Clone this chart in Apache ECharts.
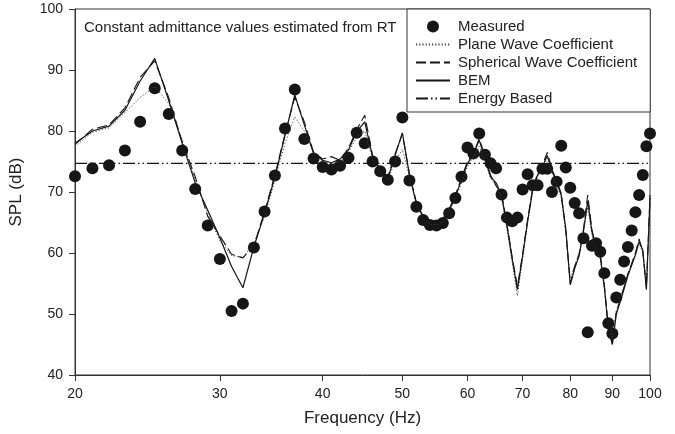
<!DOCTYPE html>
<html><head><meta charset="utf-8">
<script src="https://cdn.jsdelivr.net/npm/echarts@6/dist/echarts.min.js"></script>
<style>html,body{margin:0;padding:0;background:#fff}#c{width:675px;height:434px}</style>
</head><body><div id="c"></div>
<script>
const freq = [20,21,22,23,24,25,26,27,28,29,30,31,32,33,34,35,36,37,38,39,40,41,42,43,44,45,46,47,48,49,50,51,52,53,54,55,56,57,58,59,60,61,62,63,64,65,66,67,68,69,70,71,72,73,74,75,76,77,78,79,80,81,82,83,84,85,86,87,88,89,90,91,92,93,94,95,96,97,98,99,100];
const measured = [72.6,73.9,74.4,76.8,81.5,87.0,82.8,76.8,70.5,64.5,
  59.0,50.5,51.7,60.9,66.8,72.7,80.4,86.8,78.7,75.5,
  74.1,73.7,74.3,75.6,79.7,78.0,75.0,73.4,72.0,75.0,
  82.2,71.9,67.6,65.4,64.6,64.5,64.9,66.5,69.0,72.5,
  77.3,76.3,79.6,76.1,74.7,73.9,69.6,65.8,65.2,65.8,
  70.4,72.9,71.1,71.1,73.8,73.8,70.0,71.7,77.6,74.0,
  70.7,68.2,66.5,62.4,47.0,61.2,61.6,60.2,56.7,48.5,
  46.8,52.7,55.6,58.6,61.0,63.7,66.7,69.5,72.8,77.5,79.6];
const planeWave = [77.5,79.8,80.5,83.0,85.5,87.3,84.5,78.5,72.0,66.5,
  62.0,59.6,59.3,61.5,66.0,72.0,78.0,82.3,80.0,76.5,
  75.0,74.6,75.0,76.5,79.0,80.0,75.5,73.3,72.0,75.0,
  77.0,72.5,68.0,65.8,64.8,64.6,65.2,66.8,69.0,71.5,
  74.2,75.8,77.5,75.2,72.2,71.2,69.0,64.0,58.5,53.0,
  59.0,65.0,70.0,72.5,74.0,75.5,73.2,71.2,69.0,63.5,
  55.5,58.0,60.0,63.8,67.5,63.0,60.5,59.0,54.0,48.0,
  46.0,50.5,52.5,54.5,56.5,58.2,59.8,61.5,60.0,55.0,68.5];
const sphericalWave = [77.8,80.3,81.0,83.8,88.8,91.5,85.5,78.2,72.5,66.0,
  62.8,59.8,59.2,61.2,66.8,72.8,79.5,85.5,81.5,76.5,
  75.4,75.8,75.2,77.2,80.2,82.6,76.0,73.7,72.4,76.3,
  79.5,73.0,68.3,66.0,65.0,64.9,65.6,67.2,69.5,72.3,
  75.0,76.3,78.8,75.8,72.8,71.0,69.8,64.8,59.3,54.5,
  59.8,65.5,70.6,73.0,74.4,76.5,73.8,71.8,69.8,63.6,
  55.0,57.8,59.8,63.8,69.5,63.8,61.0,59.8,54.8,47.8,
  45.2,50.3,52.4,54.4,56.6,58.3,60.0,62.3,60.2,54.3,69.5];
const bem = [78.0,80.0,80.8,83.4,88.2,91.9,85.0,78.0,71.5,67.0,
  62.5,57.8,54.3,61.0,66.5,72.5,79.3,85.9,81.0,76.3,
  75.2,74.8,75.4,76.9,79.9,81.5,75.8,73.5,72.2,76.0,
  79.7,72.8,68.1,65.9,64.9,64.8,65.4,67.0,69.2,72.0,
  74.7,76.1,78.5,75.5,72.5,71.5,69.5,64.5,59.0,54.0,
  59.5,65.2,70.3,72.8,74.1,76.0,73.5,71.6,69.5,64.0,
  54.8,57.5,59.5,63.5,68.5,63.5,60.8,59.5,54.5,47.5,
  45.0,50.0,52.0,54.1,56.3,58.0,59.7,61.9,60.5,54.0,69.0];
const energyFreq = [20, 100];
const energyBased = [74.7, 74.7];
const xTickLabels = [20,30,40,50,60,70,80,90,100];
const yMin = 40, yMax = 100, yStep = 10;

const lg = v => Math.log10(v);
const pairs = (fs, vs) => fs.map((f, i) => [lg(f), vs[i]]);
const ink = '#161616';
const font = 'Liberation Sans, Arial, Helvetica, sans-serif';

const chart = echarts.init(document.getElementById('c'), null, {renderer: 'canvas'});
chart.setOption({
  animation: false,
  backgroundColor: '#fff',
  textStyle: {fontFamily: font},
  title: {
    text: 'Constant admittance values estimated from RT',
    left: 84, top: 20, padding: 0,
    textStyle: {fontSize: 15, fontWeight: 'normal', color: '#222', fontFamily: font}
  },
  grid: {left: 75, right: 25, top: 9, bottom: 59, show: true, borderColor: '#333', borderWidth: 1, backgroundColor: 'transparent'},
  legend: {
    orient: 'vertical', left: 407, top: 9,
    padding: [10, 13, 6, 8],
    itemWidth: 34, itemHeight: 12, itemGap: 3,
    backgroundColor: '#fff', borderColor: '#333', borderWidth: 1,
    textStyle: {fontSize: 15, color: '#222', fontFamily: font, lineHeight: 14, padding: [0, 0, 0, 3]},
    data: [
      {name: 'Measured', itemStyle: {opacity: 1}},
      {name: 'Plane Wave Coefficient', itemStyle: {opacity: 0}},
      {name: 'Spherical Wave Coefficient', itemStyle: {opacity: 0}},
      {name: 'BEM', itemStyle: {opacity: 0}},
      {name: 'Energy Based', itemStyle: {opacity: 0}}
    ]
  },
  xAxis: {
    type: 'value', min: lg(20), max: lg(100),
    name: 'Frequency (Hz)', nameLocation: 'middle', nameGap: 35,
    nameTextStyle: {fontSize: 17, color: '#222', fontFamily: font},
    axisLine: {show: true, lineStyle: {color: '#333', width: 1}},
    axisTick: {show: true, length: 6, inside: false, customValues: xTickLabels.map(lg), lineStyle: {color: '#333'}},
    axisLabel: {show: true, margin: 12, fontSize: 14, color: '#222', fontFamily: font,
      customValues: xTickLabels.map(lg), formatter: v => String(Math.round(Math.pow(10, v)))},
    splitLine: {show: false}
  },
  yAxis: {
    type: 'value', min: yMin, max: yMax, interval: yStep,
    name: 'SPL (dB)', nameLocation: 'middle', nameGap: 50,
    nameTextStyle: {fontSize: 17, color: '#222', fontFamily: font},
    axisLine: {show: true, lineStyle: {color: '#333', width: 1}},
    axisTick: {show: true, length: 6, lineStyle: {color: '#333'}},
    axisLabel: {margin: 12, fontSize: 14, color: '#222', fontFamily: font},
    splitLine: {show: false}
  },
  series: [
    {name: 'Measured', type: 'scatter', symbol: 'circle', symbolSize: 12,
     itemStyle: {color: ink, opacity: 1}, data: pairs(freq, measured), z: 3},
    {name: 'Plane Wave Coefficient', type: 'line', symbol: 'none', showSymbol: false,
     lineStyle: {color: '#444', width: 1, type: [1.2, 2]}, itemStyle: {color: '#444'},
     data: pairs(freq, planeWave), z: 4},
    {name: 'Spherical Wave Coefficient', type: 'line', symbol: 'none', showSymbol: false,
     lineStyle: {color: ink, width: 1.1, type: [10, 4]}, itemStyle: {color: ink},
     data: pairs(freq, sphericalWave), z: 4},
    {name: 'BEM', type: 'line', symbol: 'none', showSymbol: false,
     lineStyle: {color: ink, width: 1.2, type: 'solid'}, itemStyle: {color: ink},
     data: pairs(freq, bem), z: 5},
    {name: 'Energy Based', type: 'line', symbol: 'none', showSymbol: false,
     lineStyle: {color: ink, width: 1.1, type: [12, 3, 1.5, 3, 1.5, 3]}, itemStyle: {color: ink},
     data: pairs(energyFreq, energyBased), z: 4}
  ]
});
</script></body></html>
